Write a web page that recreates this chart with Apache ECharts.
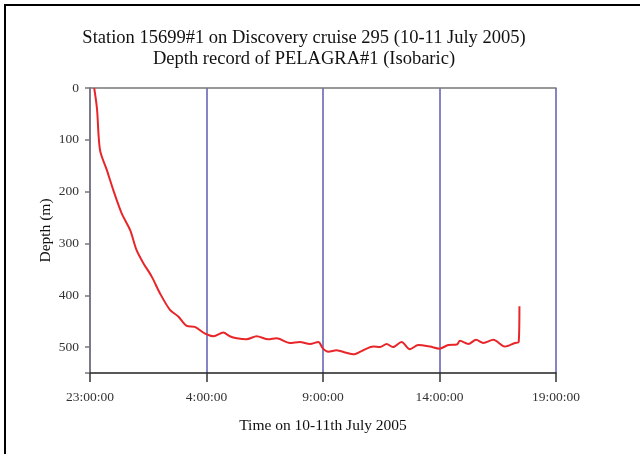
<!DOCTYPE html>
<html>
<head>
<meta charset="utf-8">
<script src="https://cdn.jsdelivr.net/npm/echarts@6/dist/echarts.min.js"></script>
<style>
html,body{margin:0;padding:0;background:#fff;}
#frame{position:absolute;left:4px;top:4px;width:636px;height:450px;border-top:2px solid #000;border-left:2px solid #000;box-sizing:border-box;}
#chart{position:absolute;left:0;top:0;width:640px;height:454px;}
</style>
</head>
<body>
<div id="frame"></div>
<div id="chart"></div>
<script>
// Hours elapsed since 23:00 on 10 July 2005
var hours = [0.18, 0.30, 0.43, 0.72, 1.00, 1.36, 1.72, 2.00, 2.29, 2.65, 3.00, 3.43, 3.79, 4.15, 4.50, 4.94,
  5.30, 5.72, 6.00, 6.30, 6.72, 7.15, 7.65, 8.00, 8.58, 9.00, 9.44, 9.80, 10.00, 10.23, 10.58, 11.00,
  11.30, 11.73, 12.16, 12.45, 12.73, 13.00, 13.37, 13.73, 14.09, 14.59, 15.00, 15.38, 15.74, 15.88,
  16.24, 16.57, 16.88, 17.31, 17.81, 18.24, 18.40, 18.43];
// Depth (m)
var depth = [0, 40, 120, 158, 197, 242, 274, 313, 338, 364, 396, 428, 441, 459, 461, 474,
  479, 472, 479, 483, 485, 479, 485, 483, 492, 490, 494, 490, 503, 509, 506, 511,
  514, 506, 499, 500, 494, 500, 490, 504, 496, 499, 503, 496, 495, 488,
  494, 486, 492, 486, 499, 492, 490, 421];
var tickHours = [0, 5, 10, 15, 20];
var tickLabels = ['23:00:00', '4:00:00', '9:00:00', '14:00:00', '19:00:00'];
var depthTicks = [0, 100, 200, 300, 400, 500];
var titleLines = ['Station 15699#1 on Discovery cruise 295 (10-11 July 2005)', 'Depth record of PELAGRA#1 (Isobaric)'];

var serif = '"Liberation Serif", "Times New Roman", serif';
var chart = echarts.init(document.getElementById('chart'));
var pts = hours.map(function (h, i) { return [h, depth[i]]; });
chart.setOption({
  animation: false,
  title: {
    text: titleLines.join('\n'),
    left: 304, top: 28, textAlign: 'center', padding: 0,
    textStyle: { fontFamily: serif, fontSize: 18.5, fontWeight: 'normal', color: '#111', lineHeight: 21 }
  },
  grid: { left: 90, right: 84, top: 88, bottom: 81 },
  xAxis: [{
    type: 'value', min: 0, max: 20, interval: 5, position: 'bottom',
    name: 'Time on 10-11th July 2005', nameLocation: 'middle', nameGap: 45,
    nameTextStyle: { fontFamily: serif, fontSize: 15.5, color: '#111' },
    axisLine: { show: true, onZero: false, lineStyle: { color: '#222', width: 1.5 } },
    axisTick: { show: true, inside: false, length: 9, lineStyle: { color: '#333', width: 1.5 } },
    axisLabel: { fontFamily: serif, fontSize: 13.5, color: '#333', margin: 17,
      formatter: function (v) { var i = tickHours.indexOf(v); return i >= 0 ? tickLabels[i] : ''; } },
    splitLine: { show: true, lineStyle: { color: '#5c5cb0', width: 1.5 } }
  }, {
    type: 'value', min: 0, max: 20, position: 'top',
    axisLine: { show: true, onZero: false, lineStyle: { color: '#777', width: 1.5 } },
    axisTick: { show: false }, axisLabel: { show: false }, splitLine: { show: false }
  }],
  yAxis: {
    type: 'value', min: 0, max: 550, interval: 100, inverse: true,
    name: 'Depth (m)', nameLocation: 'middle', nameGap: 36, nameRotate: 90, nameMoveOverlap: false,
    nameTextStyle: { fontFamily: serif, fontSize: 15.5, color: '#111' },
    axisLine: { show: true, onZero: false, lineStyle: { color: '#777', width: 1.5 } },
    axisTick: { show: true, length: 5, lineStyle: { color: '#777', width: 1.5 } },
    axisLabel: { fontFamily: serif, fontSize: 13.5, color: '#333', margin: 11,
      formatter: function (v) { return depthTicks.indexOf(v) >= 0 ? String(v) : ''; } },
    splitLine: { show: false }
  },
  series: [{
    type: 'line', xAxisIndex: 0, data: pts, showSymbol: false, smooth: 0.3,
    lineStyle: { color: '#e8262a', width: 2 }
  }]
});
</script>
</body>
</html>
